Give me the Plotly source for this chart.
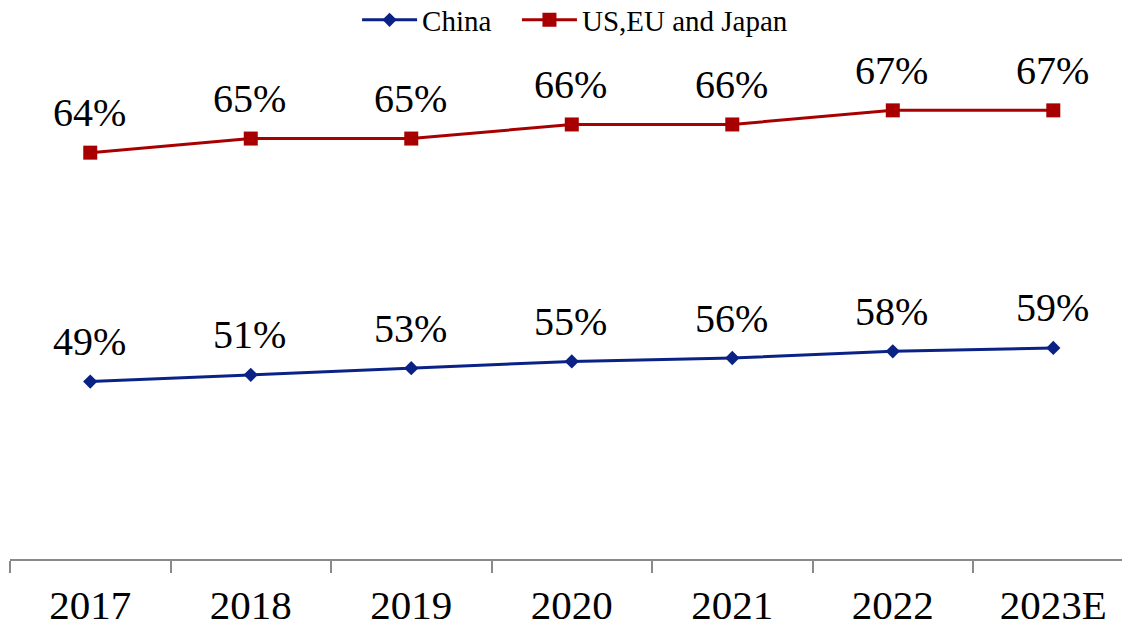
import plotly.graph_objects as go

# Categories and series values (percent)
years = ["2017", "2018", "2019", "2020", "2021", "2022", "2023E"]
china = [49, 51, 53, 55, 56, 58, 59]
us_eu_japan = [64, 65, 65, 66, 66, 67, 67]

SERIF = "Times New Roman, Liberation Serif, serif"
BLUE = "#0A2285"
RED = "#A80000"

fig = go.Figure()

fig.add_trace(go.Scatter(
    x=years, y=china, name="China",
    mode="lines+markers",
    line=dict(color=BLUE, width=3),
    marker=dict(symbol="diamond", size=11, color=BLUE),
    yaxis="y", legend="legend",
))

fig.add_trace(go.Scatter(
    x=years, y=us_eu_japan, name="US,EU and Japan",
    mode="lines+markers",
    line=dict(color=RED, width=3),
    marker=dict(symbol="square", size=14, color=RED),
    yaxis="y2", legend="legend2",
))

# value labels above each point (x given as category index)
annotations = []
for series, axis in ((china, "y"), (us_eu_japan, "y2")):
    for i, val in enumerate(series):
        annotations.append(dict(
            x=i, y=val, xref="x", yref=axis,
            text=f"{val}%", showarrow=False,
            yshift=40, xshift=-1,
            font=dict(family=SERIF, size=40, color="#000000"),
        ))

legend_style = dict(
    orientation="h", xanchor="left",
    y=1.0385, yanchor="middle",
    itemwidth=55,
    font=dict(family=SERIF, size=29, color="#000000"),
    bgcolor="rgba(0,0,0,0)",
)

fig.update_layout(
    width=1122, height=627,
    margin=dict(l=10, r=0, t=40, b=68, autoexpand=False),
    paper_bgcolor="white", plot_bgcolor="white",
    font=dict(family=SERIF, color="#000000"),
    showlegend=True,
    annotations=annotations,
    legend=dict(x=0.3121, **legend_style),
    legend2=dict(x=0.4559, **legend_style),
    xaxis=dict(
        type="category",
        range=[-0.5, 6.428],
        showline=True, linecolor="#8a8a8a", linewidth=1.5,
        ticks="outside", tickson="boundaries", ticklen=12,
        tickcolor="#8a8a8a", tickwidth=1.5,
        ticklabelstandoff=9,
        showgrid=False, zeroline=False,
        tickfont=dict(family=SERIF, size=41, color="#000000"),
    ),
    yaxis=dict(range=[-3.64, 150.37], visible=False, showgrid=False, zeroline=False),
    yaxis2=dict(range=[35.18, 71.99], overlaying="y", visible=False,
                showgrid=False, zeroline=False),
)

fig.write_html("out.html")
